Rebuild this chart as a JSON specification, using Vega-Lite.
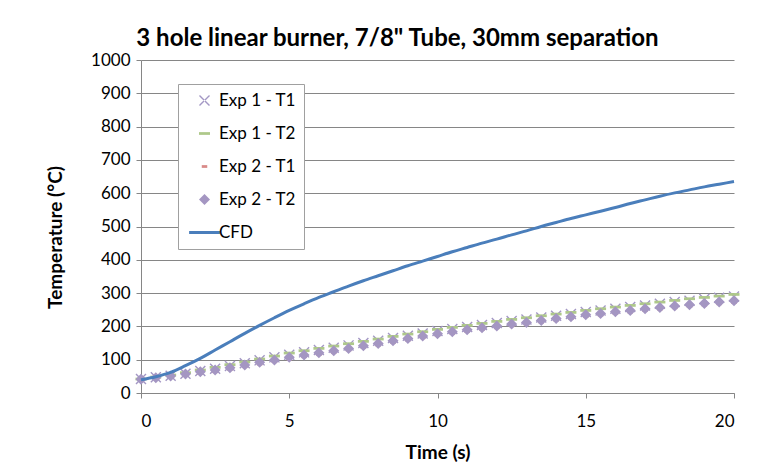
{
  "$schema": "https://vega.github.io/schema/vega-lite/v6.json",
  "width": 593,
  "height": 333,
  "autosize": {"type": "none"},
  "padding": {"left": 141, "top": 60, "right": 43, "bottom": 72},
  "background": "white",
  "title": {
    "text": "3 hole linear burner, 7/8\" Tube, 30mm separation",
    "font": "Lato",
    "fontSize": 24,
    "fontWeight": "bold",
    "color": "#000000",
    "anchor": "middle",
    "dx": -40,
    "dy": 16,
    "offset": 16
  },
  "config": {
    "view": {"stroke": null},
    "axis": {
      "labelFont": "Lato",
      "labelFontSize": 17,
      "labelColor": "#000000",
      "titleFont": "Lato",
      "titleFontSize": 19,
      "titleFontWeight": "bold",
      "titleColor": "#000000",
      "domainColor": "#868686",
      "tickColor": "#868686",
      "gridColor": "#868686",
      "tickSize": 5
    },
    "legend": {
      "labelFont": "Lato",
      "labelFontSize": 17,
      "labelColor": "#000000",
      "symbolStrokeWidth": 0,
      "symbolSize": 121
    }
  },
  "datasets": {
    "exp": [
      {"t":0,"s":"Exp 1 - T1","v":42},{"t":0.5,"s":"Exp 1 - T1","v":47},{"t":1,"s":"Exp 1 - T1","v":52},{"t":1.5,"s":"Exp 1 - T1","v":58},{"t":2,"s":"Exp 1 - T1","v":66},{"t":2.5,"s":"Exp 1 - T1","v":73},{"t":3,"s":"Exp 1 - T1","v":81},{"t":3.5,"s":"Exp 1 - T1","v":89},{"t":4,"s":"Exp 1 - T1","v":98},{"t":4.5,"s":"Exp 1 - T1","v":107},{"t":5,"s":"Exp 1 - T1","v":115},{"t":5.5,"s":"Exp 1 - T1","v":122},{"t":6,"s":"Exp 1 - T1","v":129},{"t":6.5,"s":"Exp 1 - T1","v":136},{"t":7,"s":"Exp 1 - T1","v":143},{"t":7.5,"s":"Exp 1 - T1","v":150},{"t":8,"s":"Exp 1 - T1","v":157},{"t":8.5,"s":"Exp 1 - T1","v":165},{"t":9,"s":"Exp 1 - T1","v":172},{"t":9.5,"s":"Exp 1 - T1","v":179},{"t":10,"s":"Exp 1 - T1","v":186},{"t":10.5,"s":"Exp 1 - T1","v":192},{"t":11,"s":"Exp 1 - T1","v":198},{"t":11.5,"s":"Exp 1 - T1","v":204},{"t":12,"s":"Exp 1 - T1","v":210},{"t":12.5,"s":"Exp 1 - T1","v":216},{"t":13,"s":"Exp 1 - T1","v":221},{"t":13.5,"s":"Exp 1 - T1","v":227},{"t":14,"s":"Exp 1 - T1","v":232},{"t":14.5,"s":"Exp 1 - T1","v":237},{"t":15,"s":"Exp 1 - T1","v":243},{"t":15.5,"s":"Exp 1 - T1","v":248},{"t":16,"s":"Exp 1 - T1","v":253},{"t":16.5,"s":"Exp 1 - T1","v":258},{"t":17,"s":"Exp 1 - T1","v":263},{"t":17.5,"s":"Exp 1 - T1","v":268},{"t":18,"s":"Exp 1 - T1","v":273},{"t":18.5,"s":"Exp 1 - T1","v":277},{"t":19,"s":"Exp 1 - T1","v":282},{"t":19.5,"s":"Exp 1 - T1","v":286},{"t":20,"s":"Exp 1 - T1","v":290},
      {"t":0,"s":"Exp 1 - T2","v":42},{"t":0.5,"s":"Exp 1 - T2","v":48},{"t":1,"s":"Exp 1 - T2","v":54},{"t":1.5,"s":"Exp 1 - T2","v":61},{"t":2,"s":"Exp 1 - T2","v":69},{"t":2.5,"s":"Exp 1 - T2","v":77},{"t":3,"s":"Exp 1 - T2","v":85},{"t":3.5,"s":"Exp 1 - T2","v":93},{"t":4,"s":"Exp 1 - T2","v":102},{"t":4.5,"s":"Exp 1 - T2","v":111},{"t":5,"s":"Exp 1 - T2","v":120},{"t":5.5,"s":"Exp 1 - T2","v":127},{"t":6,"s":"Exp 1 - T2","v":134},{"t":6.5,"s":"Exp 1 - T2","v":141},{"t":7,"s":"Exp 1 - T2","v":148},{"t":7.5,"s":"Exp 1 - T2","v":155},{"t":8,"s":"Exp 1 - T2","v":162},{"t":8.5,"s":"Exp 1 - T2","v":170},{"t":9,"s":"Exp 1 - T2","v":177},{"t":9.5,"s":"Exp 1 - T2","v":184},{"t":10,"s":"Exp 1 - T2","v":191},{"t":10.5,"s":"Exp 1 - T2","v":197},{"t":11,"s":"Exp 1 - T2","v":203},{"t":11.5,"s":"Exp 1 - T2","v":209},{"t":12,"s":"Exp 1 - T2","v":215},{"t":12.5,"s":"Exp 1 - T2","v":221},{"t":13,"s":"Exp 1 - T2","v":226},{"t":13.5,"s":"Exp 1 - T2","v":232},{"t":14,"s":"Exp 1 - T2","v":237},{"t":14.5,"s":"Exp 1 - T2","v":242},{"t":15,"s":"Exp 1 - T2","v":248},{"t":15.5,"s":"Exp 1 - T2","v":253},{"t":16,"s":"Exp 1 - T2","v":258},{"t":16.5,"s":"Exp 1 - T2","v":263},{"t":17,"s":"Exp 1 - T2","v":268},{"t":17.5,"s":"Exp 1 - T2","v":273},{"t":18,"s":"Exp 1 - T2","v":278},{"t":18.5,"s":"Exp 1 - T2","v":283},{"t":19,"s":"Exp 1 - T2","v":287},{"t":19.5,"s":"Exp 1 - T2","v":291},{"t":20,"s":"Exp 1 - T2","v":296},
      {"t":0,"s":"Exp 2 - T1","v":40},{"t":0.5,"s":"Exp 2 - T1","v":44},{"t":1,"s":"Exp 2 - T1","v":48},{"t":1.5,"s":"Exp 2 - T1","v":53},{"t":2,"s":"Exp 2 - T1","v":59},{"t":2.5,"s":"Exp 2 - T1","v":64},{"t":3,"s":"Exp 2 - T1","v":71},{"t":3.5,"s":"Exp 2 - T1","v":79},{"t":4,"s":"Exp 2 - T1","v":87},{"t":4.5,"s":"Exp 2 - T1","v":94},{"t":5,"s":"Exp 2 - T1","v":102},{"t":5.5,"s":"Exp 2 - T1","v":109},{"t":6,"s":"Exp 2 - T1","v":116},{"t":6.5,"s":"Exp 2 - T1","v":122},{"t":7,"s":"Exp 2 - T1","v":129},{"t":7.5,"s":"Exp 2 - T1","v":137},{"t":8,"s":"Exp 2 - T1","v":144},{"t":8.5,"s":"Exp 2 - T1","v":152},{"t":9,"s":"Exp 2 - T1","v":159},{"t":9.5,"s":"Exp 2 - T1","v":166},{"t":10,"s":"Exp 2 - T1","v":173},{"t":10.5,"s":"Exp 2 - T1","v":179},{"t":11,"s":"Exp 2 - T1","v":185},{"t":11.5,"s":"Exp 2 - T1","v":191},{"t":12,"s":"Exp 2 - T1","v":196},{"t":12.5,"s":"Exp 2 - T1","v":202},{"t":13,"s":"Exp 2 - T1","v":207},{"t":13.5,"s":"Exp 2 - T1","v":213},{"t":14,"s":"Exp 2 - T1","v":219},{"t":14.5,"s":"Exp 2 - T1","v":224},{"t":15,"s":"Exp 2 - T1","v":230},{"t":15.5,"s":"Exp 2 - T1","v":234},{"t":16,"s":"Exp 2 - T1","v":239},{"t":16.5,"s":"Exp 2 - T1","v":243},{"t":17,"s":"Exp 2 - T1","v":248},{"t":17.5,"s":"Exp 2 - T1","v":252},{"t":18,"s":"Exp 2 - T1","v":256},{"t":18.5,"s":"Exp 2 - T1","v":260},{"t":19,"s":"Exp 2 - T1","v":264},{"t":19.5,"s":"Exp 2 - T1","v":268},{"t":20,"s":"Exp 2 - T1","v":272},
      {"t":0,"s":"Exp 2 - T2","v":41},{"t":0.5,"s":"Exp 2 - T2","v":46},{"t":1,"s":"Exp 2 - T2","v":51},{"t":1.5,"s":"Exp 2 - T2","v":57},{"t":2,"s":"Exp 2 - T2","v":64},{"t":2.5,"s":"Exp 2 - T2","v":69},{"t":3,"s":"Exp 2 - T2","v":76},{"t":3.5,"s":"Exp 2 - T2","v":84},{"t":4,"s":"Exp 2 - T2","v":92},{"t":4.5,"s":"Exp 2 - T2","v":99},{"t":5,"s":"Exp 2 - T2","v":107},{"t":5.5,"s":"Exp 2 - T2","v":114},{"t":6,"s":"Exp 2 - T2","v":121},{"t":6.5,"s":"Exp 2 - T2","v":127},{"t":7,"s":"Exp 2 - T2","v":134},{"t":7.5,"s":"Exp 2 - T2","v":142},{"t":8,"s":"Exp 2 - T2","v":149},{"t":8.5,"s":"Exp 2 - T2","v":157},{"t":9,"s":"Exp 2 - T2","v":164},{"t":9.5,"s":"Exp 2 - T2","v":171},{"t":10,"s":"Exp 2 - T2","v":178},{"t":10.5,"s":"Exp 2 - T2","v":184},{"t":11,"s":"Exp 2 - T2","v":190},{"t":11.5,"s":"Exp 2 - T2","v":196},{"t":12,"s":"Exp 2 - T2","v":201},{"t":12.5,"s":"Exp 2 - T2","v":207},{"t":13,"s":"Exp 2 - T2","v":212},{"t":13.5,"s":"Exp 2 - T2","v":218},{"t":14,"s":"Exp 2 - T2","v":224},{"t":14.5,"s":"Exp 2 - T2","v":229},{"t":15,"s":"Exp 2 - T2","v":235},{"t":15.5,"s":"Exp 2 - T2","v":239},{"t":16,"s":"Exp 2 - T2","v":244},{"t":16.5,"s":"Exp 2 - T2","v":248},{"t":17,"s":"Exp 2 - T2","v":253},{"t":17.5,"s":"Exp 2 - T2","v":257},{"t":18,"s":"Exp 2 - T2","v":261},{"t":18.5,"s":"Exp 2 - T2","v":265},{"t":19,"s":"Exp 2 - T2","v":269},{"t":19.5,"s":"Exp 2 - T2","v":273},{"t":20,"s":"Exp 2 - T2","v":277}
    ],
    "cfd": [
      {"t":0,"s":"CFD","v":40},{"t":0.5,"s":"CFD","v":49},{"t":1,"s":"CFD","v":62},{"t":1.5,"s":"CFD","v":82},{"t":2,"s":"CFD","v":104},{"t":2.5,"s":"CFD","v":129},{"t":3,"s":"CFD","v":154},{"t":3.5,"s":"CFD","v":179},{"t":4,"s":"CFD","v":203},{"t":4.5,"s":"CFD","v":226},{"t":5,"s":"CFD","v":248},{"t":5.5,"s":"CFD","v":268},{"t":6,"s":"CFD","v":287},{"t":6.5,"s":"CFD","v":304},{"t":7,"s":"CFD","v":321},{"t":7.5,"s":"CFD","v":337},{"t":8,"s":"CFD","v":352},{"t":8.5,"s":"CFD","v":367},{"t":9,"s":"CFD","v":382},{"t":9.5,"s":"CFD","v":396},{"t":10,"s":"CFD","v":410},{"t":10.5,"s":"CFD","v":424},{"t":11,"s":"CFD","v":437},{"t":11.5,"s":"CFD","v":450},{"t":12,"s":"CFD","v":462},{"t":12.5,"s":"CFD","v":475},{"t":13,"s":"CFD","v":487},{"t":13.5,"s":"CFD","v":500},{"t":14,"s":"CFD","v":512},{"t":14.5,"s":"CFD","v":524},{"t":15,"s":"CFD","v":535},{"t":15.5,"s":"CFD","v":546},{"t":16,"s":"CFD","v":557},{"t":16.5,"s":"CFD","v":569},{"t":17,"s":"CFD","v":580},{"t":17.5,"s":"CFD","v":591},{"t":18,"s":"CFD","v":601},{"t":18.5,"s":"CFD","v":610},{"t":19,"s":"CFD","v":619},{"t":19.5,"s":"CFD","v":627},{"t":20,"s":"CFD","v":635}
    ]
  },
  "encoding": {
    "x": {
      "field": "t",
      "type": "quantitative",
      "scale": {"domain": [0, 20], "nice": false, "zero": false},
      "axis": {
        "title": "Time (s)",
        "values": [0, 5, 10, 15, 20],
        "grid": false,
        "labelPadding": 15,
        "titleX": 296.5,
        "titleY": 59,
        "titleBaseline": "middle"
      }
    },
    "y": {
      "field": "v",
      "type": "quantitative",
      "scale": {"domain": [0, 1000], "nice": false},
      "axis": {
        "title": "Temperature (°C)",
        "format": "d",
        "values": [0, 100, 200, 300, 400, 500, 600, 700, 800, 900, 1000],
        "grid": true,
        "labelPadding": 6,
        "titleX": -86,
        "titleY": 177,
        "titleAngle": -90,
        "titleAlign": "center",
        "titleBaseline": "middle"
      }
    }
  },
  "layer": [
    {
      "data": {"name": "exp"},
      "mark": {"type": "point", "filled": true, "size": 121, "opacity": 1, "strokeWidth": 0},
      "encoding": {
        "color": {
          "field": "s",
          "type": "nominal",
          "sort": null,
          "scale": {
            "domain": ["Exp 1 - T1", "Exp 1 - T2", "Exp 2 - T1", "Exp 2 - T2", "CFD"],
            "range": ["#a397c4", "#aec88a", "#d98a88", "#a496c2", "#4a7ebb"]
          },
          "legend": {
            "title": null,
            "orient": "none",
            "legendX": 37,
            "legendY": 24,
            "fillColor": "#ffffff",
            "strokeColor": "#a0a0a0",
            "padding": 8,
            "rowPadding": 15,
            "symbolOffset": 10,
            "labelOffset": 6
          }
        },
        "shape": {
          "field": "s",
          "type": "nominal",
          "sort": null,
          "scale": {
            "domain": ["Exp 1 - T1", "Exp 1 - T2", "Exp 2 - T1", "Exp 2 - T2", "CFD"],
            "range": [
              "M-1,-0.82L-0.82,-1L1,0.82L0.82,1Z M1,-0.82L0.82,-1L-1,0.82L-0.82,1Z",
              "M-1,-0.25L1,-0.25L1,0.25L-1,0.25Z",
              "M-0.5,-0.25L0.5,-0.25L0.5,0.25L-0.5,0.25Z",
              "M0,-1L1,0L0,1L-1,0Z",
              "M-2.8,-0.27L2.8,-0.27L2.8,0.27L-2.8,0.27Z"
            ]
          },
          "legend": {
            "title": null,
            "orient": "none",
            "legendX": 37,
            "legendY": 24,
            "fillColor": "#ffffff",
            "strokeColor": "#a0a0a0",
            "padding": 8,
            "rowPadding": 15,
            "symbolOffset": 10,
            "labelOffset": 6
          }
        }
      }
    },
    {
      "data": {"name": "cfd"},
      "mark": {"type": "line", "color": "#4a7ebb", "strokeWidth": 3, "interpolate": "monotone"},
      "encoding": {}
    }
  ]
}
